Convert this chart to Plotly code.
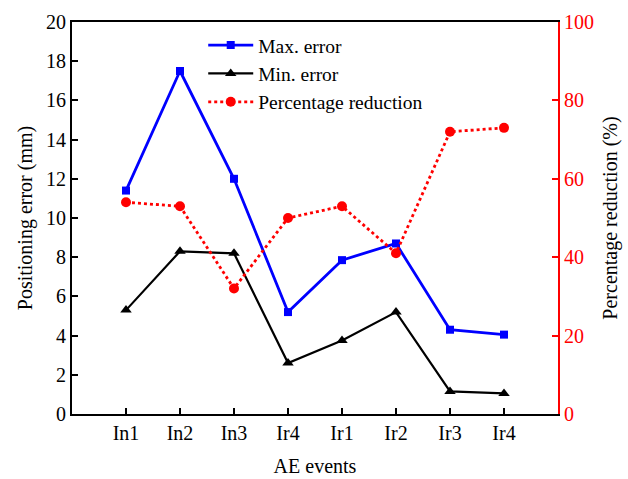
import plotly.graph_objects as go

# AE event labels (Ir4 occurs twice, so positions are indexed numerically)
events = ["In1", "In2", "In3", "Ir4", "Ir1", "Ir2", "Ir3", "Ir4"]
max_error = [11.4, 17.5, 12.0, 5.2, 7.85, 8.7, 4.3, 4.05]
min_error = [5.3, 8.3, 8.2, 2.6, 3.75, 5.2, 1.15, 1.05]
pct_reduction = [54, 53, 32, 50, 53, 41, 72, 73]
x_idx = list(range(len(events)))

FONT = "Liberation Serif, Times New Roman, serif"

fig = go.Figure()
fig.add_trace(go.Scatter(
    x=x_idx, y=max_error, name="Max. error", mode="lines+markers",
    line=dict(color="#0000ff", width=2.8),
    marker=dict(symbol="square", size=8, color="#0000ff"),
))
fig.add_trace(go.Scatter(
    x=x_idx, y=min_error, name="Min. error", mode="lines+markers",
    line=dict(color="black", width=2.2),
    marker=dict(symbol="triangle-up", size=10, color="black"),
))
fig.add_trace(go.Scatter(
    x=x_idx, y=pct_reduction, name="Percentage reduction", mode="lines+markers",
    yaxis="y2",
    line=dict(color="#ff0000", width=2.8, dash="dot"),
    marker=dict(symbol="circle", size=10, color="#ff0000"),
))

fig.update_layout(
    width=628, height=479,
    margin=dict(l=72, r=70, t=22, b=65),
    paper_bgcolor="white", plot_bgcolor="white",
    font=dict(family=FONT, size=20, color="black"),
    showlegend=True,
    legend=dict(
        x=0.27, y=0.99, xanchor="left", yanchor="top",
        bgcolor="rgba(0,0,0,0)", font=dict(size=19.5, family=FONT),
        tracegroupgap=0, itemwidth=45,
    ),
    xaxis=dict(
        range=[-1, 8], tickvals=x_idx, ticktext=events,
        showline=True, linecolor="black", linewidth=2, mirror=True,
        ticks="inside", ticklen=6, tickwidth=2, tickcolor="black",
        showgrid=False, zeroline=False, automargin=False,
        title=dict(text="AE events", font=dict(size=20), standoff=16),
        tickfont=dict(size=20),
    ),
    yaxis=dict(
        range=[0, 20], dtick=2,
        showline=True, linecolor="black", linewidth=2,
        ticks="inside", ticklen=6, tickwidth=2, tickcolor="black",
        showgrid=False, zeroline=False, automargin=False,
        title=dict(text="Positioning error (mm)", font=dict(size=20), standoff=8),
        tickfont=dict(size=20),
    ),
    yaxis2=dict(
        range=[0, 100], dtick=20, overlaying="y", side="right",
        showline=True, linecolor="#ff0000", linewidth=2,
        ticks="inside", ticklen=6, tickwidth=2, tickcolor="#ff0000",
        showgrid=False, zeroline=False, automargin=False,
        tickfont=dict(size=20, color="#ff0000"),
        title=dict(text="Percentage reduction (%)", font=dict(size=20, color="black"), standoff=10),
    ),
)

fig.write_html("out.html")
